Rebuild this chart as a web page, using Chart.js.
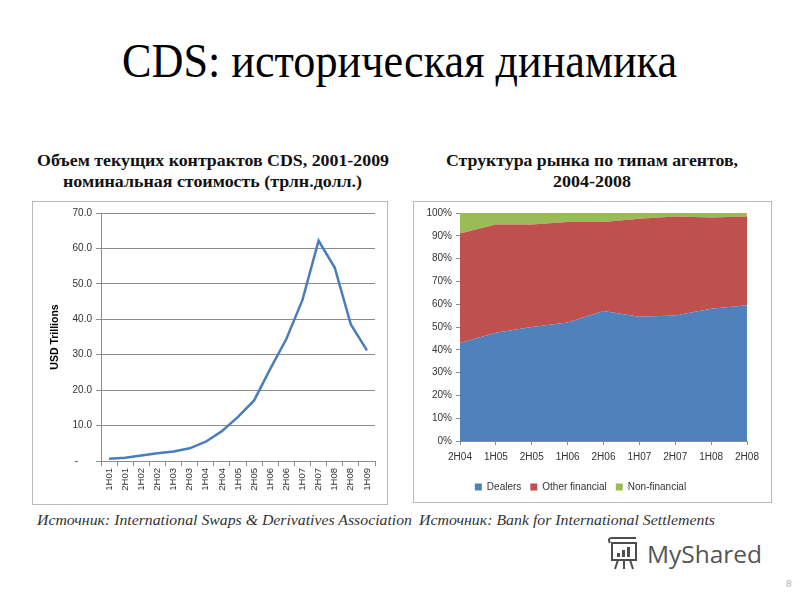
<!DOCTYPE html>
<html>
<head>
<meta charset="utf-8">
<script src="https://cdn.jsdelivr.net/npm/chart.js@4.4.1/dist/chart.umd.min.js"></script>
<style>
  body { margin: 0; background: #fff; }
  #page { position: relative; width: 800px; height: 600px; overflow: hidden; background: #fff; }
  .box { position: absolute; border: 1px solid #b9b9b9; box-sizing: border-box; background: #fff; }
  .box canvas { position: absolute; left: 0; top: 0; }
  svg { position: absolute; left: 0; top: 0; }
</style>
</head>
<body>
<div id="page">
  <svg width="800" height="600">
    <text x="122" y="77" textLength="555" lengthAdjust="spacingAndGlyphs"
      font-family="Liberation Serif" font-size="48" fill="#000">CDS: историческая динамика</text>

    <text x="37" y="166" textLength="352" lengthAdjust="spacingAndGlyphs"
      font-family="Liberation Serif" font-weight="bold" font-size="16" fill="#111">Объем текущих контрактов CDS, 2001-2009</text>
    <text x="63" y="187" textLength="299" lengthAdjust="spacingAndGlyphs"
      font-family="Liberation Serif" font-weight="bold" font-size="16" fill="#111">номинальная стоимость (трлн.долл.)</text>
    <text x="446" y="166" textLength="292" lengthAdjust="spacingAndGlyphs"
      font-family="Liberation Serif" font-weight="bold" font-size="16" fill="#111">Структура рынка по типам агентов,</text>
    <text x="553" y="187" textLength="78" lengthAdjust="spacingAndGlyphs"
      font-family="Liberation Serif" font-weight="bold" font-size="16" fill="#111">2004-2008</text>

    <text x="37" y="525" textLength="375" lengthAdjust="spacingAndGlyphs"
      font-family="Liberation Serif" font-style="italic" font-size="15" fill="#333">Источник: International Swaps &amp; Derivatives Association</text>
    <text x="419" y="525" textLength="296" lengthAdjust="spacingAndGlyphs"
      font-family="Liberation Serif" font-style="italic" font-size="15" fill="#333">Источник: Bank for International Settlements</text>

    <!-- logo -->
    <g fill="none" stroke="#4d4d4d" stroke-width="2">
      <rect x="612" y="543" width="24" height="17" />
      <path d="M610 543 q-3 -5 2 -5 h24" />
      <line x1="618" y1="560" x2="615" y2="569" />
      <line x1="624" y1="560" x2="624" y2="569" />
      <line x1="630" y1="560" x2="633" y2="569" />
    </g>
    <rect x="617" y="553" width="3" height="4" fill="#4d4d4d" />
    <rect x="622" y="550" width="3" height="7" fill="#4d4d4d" />
    <rect x="627" y="547" width="3" height="10" fill="#4d4d4d" />
    <text x="647" y="563" textLength="115" lengthAdjust="spacingAndGlyphs"
      font-family="Open Sans" font-size="24" fill="#555">MyShared</text>
    <text x="786" y="587" font-family="Liberation Serif" font-size="11" fill="#aaa">8</text>
  </svg>

  <div class="box" style="left:32px; top:201px; width:356px; height:304px;">
    <canvas id="cdsLine" width="354" height="302"></canvas>
  </div>
  <div class="box" style="left:413px; top:201px; width:359px; height:302px;">
    <canvas id="cdsArea" width="357" height="300"></canvas>
  </div>
</div>

<script>
// left chart: outstanding CDS notional, USD trillions
const periods = ['1H01', '2H01', '1H02', '2H02', '1H03', '2H03', '1H04', '2H04', '1H05',
                 '2H05', '1H06', '2H06', '1H07', '2H07', '1H08', '2H08', '1H09'];
const notional = [0.63, 0.92, 1.56, 2.19, 2.69, 3.58, 5.44, 8.42, 12.43,
                  17.10, 26.01, 34.42, 45.46, 62.17, 54.61, 38.56, 31.22];

// right chart: market structure by agent type, %
const agentPeriods = ['2H04', '1H05', '2H05', '1H06', '2H06', '1H07', '2H07', '1H08', '2H08'];
const dealers = [43, 47.5, 50, 52, 57, 54.5, 55, 58, 59.5];
const otherFinancial = [48, 47.5, 45, 44, 39, 43, 43.5, 40, 39];
const nonFinancial = [9, 5, 5, 4, 4, 2.5, 1.5, 2, 1.5];

const tickFont = { family: 'Liberation Sans', size: 10 };
const axisGrey = '#8c8c8c';

new Chart(document.getElementById('cdsLine'), {
    type: 'line',
    data: {
        labels: periods,
        datasets: [{
            data: notional,
            borderColor: '#4a7ebb',
            borderWidth: 2.5,
            pointRadius: 0,
            tension: 0,
            fill: false
        }]
    },
    options: {
        responsive: false,
        animation: false,
        layout: { padding: { top: 11, right: 12, left: 0, bottom: 0 } },
        plugins: { legend: { display: false }, tooltip: { enabled: false } },
        scales: {
            x: {
                offset: true,
                grid: { drawOnChartArea: false, offset: true, tickLength: 5, color: axisGrey },
                border: { color: axisGrey },
                ticks: { font: { family: 'Liberation Sans', size: 9.5 }, color: '#333', minRotation: 90, maxRotation: 90, autoSkip: false, padding: 2 },
                afterFit: s => { s.height = 43; }
            },
            y: {
                min: 0,
                max: 70,
                grid: { color: axisGrey, tickLength: 5 },
                border: { color: axisGrey },
                ticks: {
                    stepSize: 10,
                    font: tickFont,
                    color: '#333',
                    padding: 4,
                    callback: v => v === 0 ? '-     ' : v.toFixed(1)
                },
                title: { display: true, text: 'USD Trillions', font: { family: 'Liberation Sans', size: 10.5, weight: 'bold' }, color: '#000', padding: { top: 16, bottom: 0 } },
                afterFit: s => { s.width = 68; }
            }
        }
    }
});

new Chart(document.getElementById('cdsArea'), {
    type: 'line',
    data: {
        labels: agentPeriods,
        datasets: [
            { label: 'Dealers', data: dealers, backgroundColor: '#4f81bd', borderColor: '#4f81bd', fill: 'origin' },
            { label: 'Other financial', data: otherFinancial, backgroundColor: '#c0504d', borderColor: '#c0504d', fill: '-1' },
            { label: 'Non-financial', data: nonFinancial, backgroundColor: '#9bbb59', borderColor: '#9bbb59', fill: '-1' }
        ]
    },
    options: {
        responsive: false,
        animation: false,
        elements: { point: { radius: 0 }, line: { borderWidth: 0, tension: 0 } },
        layout: { padding: { top: 11, right: 24, left: 0, bottom: 0 } },
        plugins: {
            tooltip: { enabled: false },
            legend: {
                position: 'bottom',
                labels: { font: { family: 'Liberation Sans', size: 10 }, color: '#333', boxWidth: 7, boxHeight: 7, padding: 9 }
            }
        },
        scales: {
            x: {
                offset: false,
                grid: { drawOnChartArea: false, tickLength: 4, color: axisGrey },
                border: { color: axisGrey },
                ticks: { font: tickFont, color: '#333', maxRotation: 0, padding: 6 },
                afterFit: s => { s.height = 32; }
            },
            y: {
                stacked: true,
                min: 0,
                max: 100,
                grid: { drawOnChartArea: false, tickLength: 4, color: axisGrey },
                border: { color: axisGrey },
                ticks: { stepSize: 10, font: tickFont, color: '#333', padding: 4, callback: v => v + '%' },
                afterFit: s => { s.width = 46; }
            }
        }
    }
});
</script>
</body>
</html>
